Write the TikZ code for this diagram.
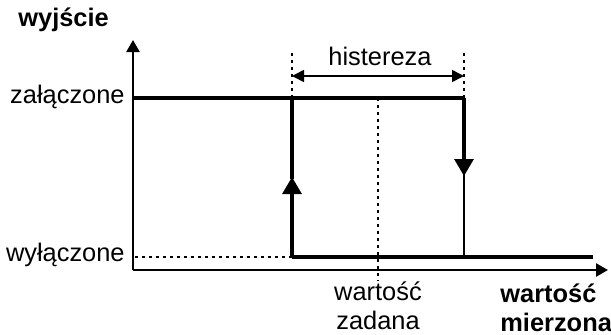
\documentclass[tikz,border=0pt]{standalone}
\usepackage{fontspec}
\setmainfont{Liberation Sans}
\usetikzlibrary{arrows.meta}
\tikzset{axis line/.style={line width=1.2pt, -{Triangle[width=6.5pt,length=6pt]}}}
\tikzset{signal line/.style={line width=1.6pt}}
\tikzset{guide line/.style={line width=1.2pt, dash pattern=on 1.5pt off 2pt}}
\tikzset{label text/.style={inner sep=0pt, font=\fontsize{12.7}{14.5}\selectfont}}

\begin{document}
\begin{tikzpicture}[
		x=0.5pt, y=-0.5pt,
		step tip/.style={-{Triangle[width=9.5pt,length=8.5pt]}}
		]    % coordinates in pixels of the 611x334 frame
		\useasboundingbox (0,0) rectangle (611,334);
		% axes
		\coordinate (O) at (133,270);
		\coordinate (ytop) at (133,40);
		\coordinate (xend) at (608,270);
		\draw[axis line] (O) -- (ytop);
		\draw[axis line] (O) -- (xend);
		% switching points
		\coordinate (on start) at (133,98);
		\coordinate (on left) at (292,98);
		\coordinate (on right) at (464,98);
		\coordinate (off left) at (292,257);
		\coordinate (off right) at (464,257);
		\coordinate (off end) at (593,257);
		\coordinate (up tip) at (292,177);
		\coordinate (down tip) at (464,176);
		\coordinate (set top) at (378,98);
		\coordinate (set bottom) at (378,281);
		\coordinate (hyst left) at (292,53);
		\coordinate (hyst right) at (464,53);
		\coordinate (hyst a) at (292,76);
		\coordinate (hyst b) at (464,76);
		\coordinate (off axis) at (135,257);
		% guides
		\draw[guide line] (set top) -- (set bottom);
		\draw[guide line] (hyst left) -- (on left);
		\draw[guide line] (hyst right) -- (on right);
		\draw[guide line] (off axis) -- (off left);
		\draw[line width=0.8pt, {Triangle[width=6pt,length=6pt]}-{Triangle[width=6pt,length=6pt]}] (hyst a) -- (hyst b);
		% characteristic
		\draw[signal line] (on start) -- (on right);
		\draw[signal line] (off left) -- (off end);
		\draw[signal line, step tip] (off left) -- (up tip);
		\draw[signal line] (on left) -- ([yshift=-1]up tip);
		\draw[signal line, step tip] (on right) -- (down tip);
		\draw[line width=1.3pt] ([yshift=1]down tip) -- (off right);
		% labels
		\node[label text, anchor=base west, font=\fontsize{12.7}{14.5}\selectfont\bfseries] (output) at (18,26) {wyjście};
		\node[label text, anchor=base east] (on label) at (125,103) {załączone};
		\node[label text, anchor=base east] (off label) at (125,261) {wyłączone};
		\node[label text, anchor=base] (hyst label) at (380,65) {histereza};
		\node[label text, anchor=north, align=center] (set label) at (378,281) {wartość\\zadana};
		\node[label text, anchor=north west, align=left, font=\fontsize{12.7}{14.5}\selectfont\bfseries] (meas label) at (500,283) {wartość\\mierzona};
	\end{tikzpicture}
\end{document}
